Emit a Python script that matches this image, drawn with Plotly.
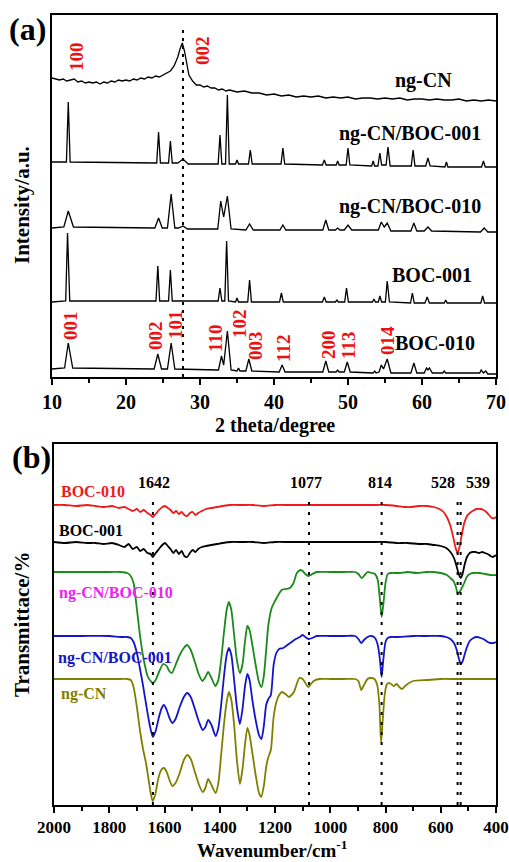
import plotly.graph_objects as go

W, H = 509, 862
FONT = "Liberation Serif, Times New Roman, serif"

# ---------------- Panel (a): XRD ----------------
xrd_ngcn_x = [10.0, 10.5, 11.0, 11.5, 12.0, 12.5, 13.0, 13.5, 14.0, 14.5, 15.0, 15.5, 16.0, 16.5,
              17.0, 17.5, 18.0, 18.5, 19.0, 19.5, 20.0, 20.5, 21.0, 21.5, 22.0, 22.5, 23.0, 23.5,
              24.0, 24.5, 25.0, 25.5, 26.0, 26.5, 27.0, 27.3, 27.6, 27.9, 28.2, 28.5, 29.0, 29.5,
              30.0, 30.5, 31.0, 31.5, 32.0, 32.5, 33.0, 33.5, 34.0, 35, 36, 37, 38, 39, 40, 41, 42,
              43, 44, 45, 46, 47, 48, 49, 50, 51, 52, 53, 54, 55, 56, 57, 58, 59, 60, 61, 62, 63,
              64, 65, 66, 67, 68, 69, 70]
xrd_ngcn_y = [299, 298, 297, 298, 296, 297, 298, 295, 296, 294, 295, 294, 295, 293,
              295, 294, 296, 295, 297, 296, 297, 296, 298, 297, 299, 298, 300, 299,
              301, 300, 302, 304, 306, 311, 320, 328, 334, 326, 313, 302, 296, 292,
              292, 290, 291, 289, 289, 287, 288, 286, 287, 285, 286, 284, 284, 282, 283, 281, 282,
              280, 281, 280, 281, 279, 280, 279, 280, 278, 279, 279, 278, 279, 278, 279, 277, 278,
              278, 277, 278, 277, 277, 278, 276, 277, 276, 277, 276]

xrd_c001_x = [10, 11.95, 12.2, 12.45, 24.15, 24.4, 24.65, 25.75, 26.0, 26.25, 27.0, 27.7, 28.4,
              32.45, 32.7, 32.95, 33.45, 33.7, 33.95, 34.8, 35.0, 35.2, 36.55, 36.8, 37.05,
              40.95, 41.2, 41.45, 46.55, 46.8, 47.05, 48.4, 48.6, 48.8, 49.75, 50.0, 50.25,
              53.2, 53.4, 53.6, 54.05, 54.3, 54.55, 55.15, 55.4, 55.7, 58.55, 58.8, 59.05,
              60.5, 60.8, 61.1, 63.1, 63.3, 63.5, 68.05, 68.3, 68.55, 70]
xrd_c001_y = [215, 215, 275, 215, 214, 245, 214, 214, 236, 214, 214, 218, 213,
              213, 242, 213, 213, 282, 213, 213, 217, 213, 213, 227, 213,
              213, 229, 213, 212, 217, 212, 212, 216, 212, 212, 229, 212,
              211, 216, 211, 211, 224, 212, 212, 230, 211, 211, 227, 211,
              211, 219, 211, 210, 215, 210, 210, 216, 210, 210]

xrd_c010_x = [10, 11.6, 12.2, 12.9, 23.9, 24.4, 24.9, 25.6, 26.1, 26.6, 27.1, 27.7, 28.3,
              32.4, 32.8, 33.2, 33.7, 34.2, 36.2, 36.7, 37.2, 40.8, 41.2, 41.6, 46.6, 47.0, 47.4,
              48.3, 48.6, 48.9, 49.5, 50.0, 50.5, 54.1, 54.5, 54.9, 55.3, 55.8, 58.5, 58.9, 59.3,
              60.3, 60.8, 61.3, 67.9, 68.4, 68.9, 70]
xrd_c010_y = [149, 150, 166, 150, 149, 159, 149, 149, 183, 149, 149, 151, 148,
              148, 176, 160, 181, 148, 147, 153, 147, 147, 152, 147, 147, 157, 147,
              147, 149, 147, 147, 152, 147, 147, 155, 150, 154, 146, 146, 154, 146,
              146, 150, 146, 145, 149, 145, 145]

xrd_b001_x = [10, 11.85, 12.1, 12.4, 24.05, 24.3, 24.55, 25.75, 26.0, 26.25, 32.45, 32.7, 32.95,
              33.35, 33.6, 33.85, 34.8, 35.0, 35.2, 36.45, 36.7, 36.95, 40.75, 41.0, 41.25,
              46.55, 46.8, 47.05, 48.3, 48.5, 48.7, 49.55, 49.8, 50.05, 53.3, 53.5, 53.7,
              54.1, 54.3, 54.55, 55.05, 55.3, 55.6, 58.45, 58.7, 58.95, 60.4, 60.7, 61.0,
              63.0, 63.2, 63.4, 67.95, 68.2, 68.45, 70]
xrd_b001_y = [75, 76, 144, 76, 76, 111, 76, 76, 107, 76, 76, 89, 76,
              76, 136, 76, 75, 79, 75, 75, 97, 75, 75, 84, 75,
              75, 80, 75, 75, 77, 75, 75, 89, 75, 75, 78, 75,
              75, 81, 75, 75, 96, 75, 74, 84, 74, 74, 80, 74,
              74, 77, 74, 74, 81, 74, 74]

xrd_b010_x = [10, 11.7, 12.2, 12.8, 23.8, 24.3, 24.8, 25.6, 26.1, 26.6, 32.5, 32.9, 33.2, 33.7,
              34.2, 35.0, 35.2, 35.4, 36.2, 36.6, 37.0, 40.7, 41.1, 41.5, 46.6, 47.0, 47.4,
              48.4, 48.6, 48.8, 49.5, 49.9, 50.3, 53.4, 53.6, 53.8, 54.2, 54.5, 54.8, 55.3,
              55.8, 58.5, 58.9, 59.3, 60.3, 60.6, 60.8, 61.0, 61.4, 62.8, 63.0, 63.2, 67.8,
              68.0, 68.3, 68.6, 68.9, 70]
xrd_b010_y = [8, 9, 34, 9, 8, 23, 8, 8, 34, 8, 7, 21, 12, 46,
              7, 6, 9, 6, 6, 18, 6, 5, 12, 5, 5, 16, 5,
              5, 7, 5, 5, 15, 5, 4, 6, 4, 5, 12, 8, 18,
              4, 4, 14, 4, 4, 9, 7, 9, 4, 4, 6, 4, 4,
              7, 4, 6, 3, 3]

xrd_names = ["ng-CN", "ng-CN/BOC-001", "ng-CN/BOC-010", "BOC-001", "BOC-010"]
xrd_x = [xrd_ngcn_x, xrd_c001_x, xrd_c010_x, xrd_b001_x, xrd_b010_x]
xrd_y = [xrd_ngcn_y, xrd_c001_y, xrd_c010_y, xrd_b001_y, xrd_b010_y]
xrd_dotted = 27.7

# ---------------- Panel (b): FTIR ----------------
ir_b010_w = [2000, 1960, 1920, 1880, 1850, 1820, 1790, 1765, 1745, 1730, 1715, 1700, 1688, 1675,
             1662, 1650, 1642, 1632, 1620, 1608, 1598, 1588, 1578, 1568, 1558, 1548, 1538, 1528,
             1518, 1508, 1498, 1488, 1478, 1465, 1450, 1430, 1410, 1390, 1360, 1320, 1280, 1240,
             1200, 1150, 1100, 1050, 1000, 950, 900, 850, 800, 760, 730, 705, 680, 650, 625, 605,
             590, 578, 566, 555, 545, 539, 532, 524, 515, 505, 495, 485, 470, 455, 445, 435, 425,
             415, 405, 400]
ir_b010_v = [300, 300, 299, 300, 299, 298, 299, 297, 298, 296, 294, 296, 293, 295,
             292, 290, 288, 291, 295, 298, 299, 297, 295, 292, 294, 291, 293, 290,
             289, 292, 293, 290, 292, 294, 296, 297, 298, 299, 300, 300, 300, 299,
             300, 300, 300, 300, 300, 300, 300, 300, 300, 299, 298, 298, 299, 299, 298, 296,
             293, 288, 280, 268, 256, 252, 258, 270, 282, 289, 292, 294, 296, 296, 295, 293, 290,
             287, 287, 288]

ir_b001_w = [2000, 1960, 1920, 1880, 1850, 1820, 1790, 1765, 1745, 1730, 1715, 1700, 1688, 1675,
             1662, 1650, 1642, 1632, 1620, 1608, 1598, 1588, 1578, 1568, 1558, 1548, 1538, 1528,
             1518, 1508, 1498, 1488, 1478, 1465, 1450, 1430, 1410, 1390, 1360, 1320, 1280, 1240,
             1200, 1150, 1100, 1050, 1000, 950, 900, 850, 800, 760, 720, 680, 650, 625, 600, 580,
             565, 552, 542, 535, 528, 522, 514, 505, 495, 485, 475, 462, 450, 440, 430, 420, 412,
             405, 400]
ir_b001_v = [263, 262, 263, 262, 262, 261, 262, 260, 258, 261, 256, 258, 254, 256,
             252, 251, 248, 252, 256, 260, 262, 259, 256, 252, 255, 251, 254, 249,
             248, 252, 255, 253, 256, 258, 259, 260, 261, 262, 263, 263, 263, 262,
             263, 263, 263, 263, 263, 263, 263, 263, 263, 262, 262, 261, 261, 260, 259, 257,
             253, 247, 238, 231, 227, 230, 240, 248, 252, 253, 253, 252, 253, 252, 251, 249, 248,
             249, 250]

ir_c010_w = [2000, 1900, 1800, 1760, 1735, 1725, 1712, 1700, 1688, 1675, 1660, 1650, 1642, 1632,
             1620, 1605, 1592, 1583, 1573, 1560, 1545, 1530, 1518, 1505, 1490, 1475, 1463, 1452,
             1442, 1430, 1416, 1405, 1395, 1385, 1375, 1367, 1358, 1348, 1338, 1327, 1318, 1308,
             1300, 1292, 1282, 1270, 1258, 1249, 1240, 1232, 1224, 1212, 1200, 1188, 1176, 1160,
             1146, 1133, 1121, 1108, 1100, 1090, 1079, 1065, 1049, 1000, 950, 910, 898, 886, 875,
             865, 850, 838, 828, 820, 814, 808, 800, 792, 780, 760, 747, 720, 687, 650, 627, 600,
             578, 565, 554, 545, 539, 532, 524, 515, 506, 495, 482, 460, 440, 420, 400]
ir_c010_v = [233, 233, 233, 233, 232, 230, 222, 196, 168, 145, 128, 124, 122, 125,
             133, 141, 139, 134, 132, 140, 150, 157, 160, 155, 143, 130, 124, 128,
             133, 127, 119, 125, 145, 172, 195, 203, 195, 170, 145, 132, 140, 165,
             179, 175, 160, 140, 123, 118, 130, 155, 180, 197, 204, 210, 215, 216,
             217, 222, 232, 235, 234, 231, 229, 231, 233, 233, 233, 233, 231, 227, 230,
             233, 232, 231, 225, 205, 188, 200, 222, 231, 232, 232, 232, 233, 232, 233, 233, 232,
             230, 227, 224, 218, 212, 213, 217, 222, 228, 231, 232, 232, 231, 230, 230]

ir_c001_w = [2000, 1900, 1800, 1760, 1735, 1722, 1712, 1700, 1690, 1678, 1665, 1652, 1642, 1632,
             1620, 1610, 1602, 1592, 1582, 1572, 1560, 1545, 1530, 1518, 1505, 1490, 1475, 1462,
             1452, 1442, 1430, 1415, 1405, 1395, 1385, 1375, 1367, 1358, 1348, 1338, 1327, 1318,
             1308, 1300, 1292, 1282, 1270, 1258, 1249, 1240, 1232, 1224, 1215, 1205, 1195, 1185,
             1170, 1155, 1140, 1125, 1110, 1100, 1090, 1079, 1065, 1049, 1000, 950, 910, 898, 888,
             878, 865, 850, 838, 828, 820, 814, 808, 800, 792, 780, 760, 700, 650, 600, 580, 565,
             552, 542, 535, 528, 522, 514, 505, 495, 482, 470, 455, 440, 430, 420, 410, 400]
ir_c001_v = [169, 169, 169, 168, 168, 167, 163, 152, 138, 120, 98, 78, 68, 74,
             88, 97, 100, 95, 87, 82, 86, 98, 108, 112, 108, 96, 83, 75,
             78, 85, 80, 69, 77, 100, 128, 150, 157, 150, 125, 98, 81, 95,
             120, 131, 125, 105, 85, 70, 66, 80, 100, 106, 110, 140, 152, 156,
             157, 160, 163, 166, 168, 170, 168, 166, 167, 169, 169, 169, 169, 166, 162,
             165, 168, 169, 167, 160, 145, 128, 145, 163, 167, 168, 168, 169, 169, 169, 168, 166,
             162, 155, 147, 141, 143, 150, 158, 164, 167, 168, 167, 165, 163, 162, 162, 163]

ir_ngcn_w = [2000, 1900, 1800, 1760, 1735, 1722, 1712, 1700, 1689, 1677, 1667, 1659, 1650, 1643,
             1634, 1622, 1612, 1602, 1592, 1582, 1572, 1560, 1545, 1530, 1518, 1505, 1490, 1475,
             1462, 1452, 1442, 1430, 1415, 1405, 1395, 1385, 1375, 1367, 1358, 1348, 1338, 1327,
             1318, 1308, 1300, 1292, 1282, 1270, 1258, 1250, 1240, 1232, 1225, 1215, 1205, 1195,
             1185, 1175, 1162, 1150, 1140, 1130, 1120, 1112, 1100, 1090, 1080, 1070, 1060, 1040,
             1000, 950, 910, 898, 888, 878, 865, 855, 840, 830, 822, 816, 810, 803, 796, 790, 780,
             770, 760, 750, 740, 725, 700, 650, 600, 550, 500, 450, 400]
ir_ngcn_v = [126, 126, 126, 126, 126, 125, 118, 98, 75, 55, 42, 28, 12, 4,
             10, 27, 35, 37, 33, 25, 19, 22, 32, 45, 50, 46, 33, 20,
             13, 17, 26, 20, 12, 22, 50, 80, 103, 113, 105, 80, 45, 21,
             35, 62, 77, 70, 52, 30, 12, 8, 20, 38, 47, 55, 88, 103,
             110, 113, 111, 108, 110, 114, 122, 127, 126, 122, 118, 121, 124, 126,
             126, 126, 126, 124, 115, 120, 126, 127, 126, 120, 100, 62, 85, 110, 120, 122, 121,
             119, 121, 118, 116, 120, 124, 125, 126, 126, 126, 126, 126]

ir_names = ["BOC-010", "BOC-001", "ng-CN/BOC-010", "ng-CN/BOC-001", "ng-CN"]
ir_w = [ir_b010_w, ir_b001_w, ir_c010_w, ir_c001_w, ir_ngcn_w]
ir_v = [ir_b010_v, ir_b001_v, ir_c010_v, ir_c001_v, ir_ngcn_v]
ir_colors = ["#f01818", "#000000", "#1a8a1a", "#1414c8", "#808000"]
ir_label_colors = ["#f01818", "#000000", "#ee22ee", "#1414c8", "#808000"]
ir_marks = [1642, 1077, 814, 539, 528]
ir_mark_labels = ["1642", "1077", "814", "528", "539"]

hkl_top = ["100", "002"]
hkl_bottom = ["001", "002", "101", "110", "102", "003", "112", "200", "113", "014"]


def px(x):
    return x / W


def py(y):
    return 1 - y / H


fig = go.Figure()
for name, xs, ys in zip(xrd_names, xrd_x, xrd_y):
    fig.add_trace(go.Scatter(x=xs, y=ys, mode="lines", name=name,
                             line=dict(color="black", width=1.3), xaxis="x", yaxis="y"))
for name, xs, ys, c in zip(ir_names, ir_w, ir_v, ir_colors):
    fig.add_trace(go.Scatter(x=xs, y=ys, mode="lines", name=name,
                             line=dict(color=c, width=1.8, shape="spline", smoothing=0.6),
                             xaxis="x2", yaxis="y2"))

axis_common = dict(showline=True, linecolor="black", linewidth=1.5, mirror=True,
                   showgrid=False, zeroline=False, automargin=False)
tickf = dict(family=FONT, size=20, color="black", weight="bold")

fig.update_layout(
    width=W, height=H, autosize=False, margin=dict(l=0, r=0, t=0, b=0, pad=0, autoexpand=False),
    paper_bgcolor="white", plot_bgcolor="white", showlegend=False,
    xaxis=dict(domain=[px(52), px(496)], range=[10, 70], dtick=10, ticks="outside",
               ticklen=6, tickwidth=1.5, tickcolor="black", tickfont=tickf,
               minor=dict(dtick=5, ticks="outside", ticklen=4, tickwidth=1.5, tickcolor="black"),
               anchor="y", **axis_common),
    yaxis=dict(domain=[py(377), py(15)], range=[0, 362], showticklabels=False, ticks="",
               anchor="x", **axis_common),
    xaxis2=dict(domain=[px(54), px(496)], range=[2000, 400], dtick=200, ticks="outside",
                ticklen=6, tickwidth=1.5, tickcolor="black",
                tickfont=dict(family=FONT, size=17, color="black", weight="bold"),
                minor=dict(dtick=100, ticks="outside", ticklen=4, tickwidth=1.5, tickcolor="black"),
                anchor="y2", **axis_common),
    yaxis2=dict(domain=[py(805), py(444)], range=[0, 361], showticklabels=False, ticks="",
                anchor="x2", **axis_common),
)

# dotted guide lines
fig.add_shape(type="line", xref="x", yref="paper", x0=xrd_dotted, x1=xrd_dotted,
              y0=py(377), y1=py(30), line=dict(color="black", width=2, dash="3px,5px"))
for w in ir_marks:
    fig.add_shape(type="line", xref="x2", yref="paper", x0=w, x1=w,
                  y0=py(805), y1=py(497), line=dict(color="black", width=2, dash="3px,7px"))

ann = []


def text(x, y, s, size, color="black", angle=0, xanchor="center"):
    ann.append(dict(x=px(x), y=py(y), xref="paper", yref="paper", text="<b>" + s + "</b>",
                    showarrow=False, textangle=angle, xanchor=xanchor, yanchor="middle",
                    font=dict(family=FONT, size=size, color=color)))


# panel letters and axis titles
text(27, 29, "(a)", 32)
text(32, 457, "(b)", 32)
text(22, 205, "Intensity/a.u.", 21, angle=-90)
text(22, 625, "Transmittace/%", 21, angle=-90)
text(275, 425, "2 theta/degree", 20)
text(272, 849, "Wavenumber/cm<sup>-1</sup>", 19)

# XRD trace labels
xrd_label_pos = [(423, 80), (410, 133), (410, 206), (432, 275), (435, 343)]
for name, (x, y) in zip(xrd_names, xrd_label_pos):
    text(x, y, name, 20)

# hkl labels (red, rotated)
hkl_top_pos = [(76, 57), (202, 51)]
hkl_bottom_pos = [(70, 326), (155, 336), (175, 325), (216, 339), (239, 324), (255, 346),
                  (284, 349), (328, 345), (348, 346), (387, 341)]
for s, (x, y) in zip(hkl_top + hkl_bottom, hkl_top_pos + hkl_bottom_pos):
    text(x, y, s, 19, color="#ee1111", angle=-90)

# FTIR labels
ir_label_pos = [(93, 491), (91, 530), (116, 593), (115, 658), (84, 694)]
for name, c, (x, y) in zip(ir_names, ir_label_colors, ir_label_pos):
    text(x, y, name, 16, color=c)
ir_mark_pos = [154, 306, 380, 443, 478]
for s, x in zip(ir_mark_labels, ir_mark_pos):
    text(x, 482, s, 16)

fig.update_layout(annotations=ann)
fig.write_html("out.html")
